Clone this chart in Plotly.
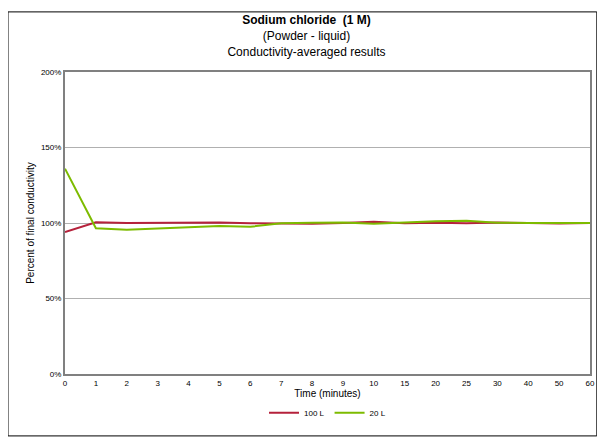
import plotly.graph_objects as go

times = ["0","1","2","3","4","5","6","7","8","9","10","15","20","25","30","40","50","60"]
s100 = [94, 100.5, 100, 100.2, 100.4, 100.3, 99.8, 99.6, 99.5, 100, 100.8, 99.8, 100.2, 99.9, 100.3, 100, 99.6, 100]
s20 = [136, 96.5, 95.5, 96.5, 97.2, 98, 97.5, 99.8, 100.2, 100.3, 99.5, 100.5, 101.2, 101.5, 100.2, 100, 100.2, 100]

fig = go.Figure()
fig.add_trace(go.Scatter(x=times, y=s100, mode="lines", name="100 L", line=dict(color="#B5213B", width=2)))
fig.add_trace(go.Scatter(x=times, y=s20, mode="lines", name="20 L", line=dict(color="#7DBB00", width=2)))
fig.update_layout(
    width=597, height=431, paper_bgcolor="white", plot_bgcolor="white",
    margin=dict(l=57, r=15, t=64, b=65, autoexpand=False),
    font=dict(family="Liberation Sans, Arial", size=8, color="#000"),
    title=dict(text="<b>Sodium chloride  (1 M)</b><br>(Powder - liquid)<br>Conductivity-averaged results",
               x=0.5, xanchor="center", y=0.962, yanchor="top", font=dict(size=12)),
    xaxis=dict(type="category", range=[0, 17], title=dict(text="Time (minutes)", standoff=2), automargin=False,
               showline=True, linecolor="#808080", linewidth=2, mirror=True, ticks="", showgrid=False),
    yaxis=dict(range=[0, 200], tickvals=[0, 50, 100, 150, 200], ticktext=["0%", "50%", "100%", "150%", "200%"],
               title=dict(text="Percent of final conductivity", standoff=4), automargin=False,
               showline=True, linecolor="#808080", linewidth=2, mirror=True, gridcolor="#B0B0B0", zeroline=False),
    legend=dict(orientation="h", x=0.5, xanchor="center", y=-0.08, yanchor="top", font=dict(size=8),
                bgcolor="rgba(0,0,0,0)"),
    shapes=[dict(type="rect", xref="paper", yref="paper", x0=-0.1086, x1=1.013, y0=-0.205, y1=1.199,
                 line=dict(color="#000", width=1), layer="below")],
)
fig.write_html("out.html")
